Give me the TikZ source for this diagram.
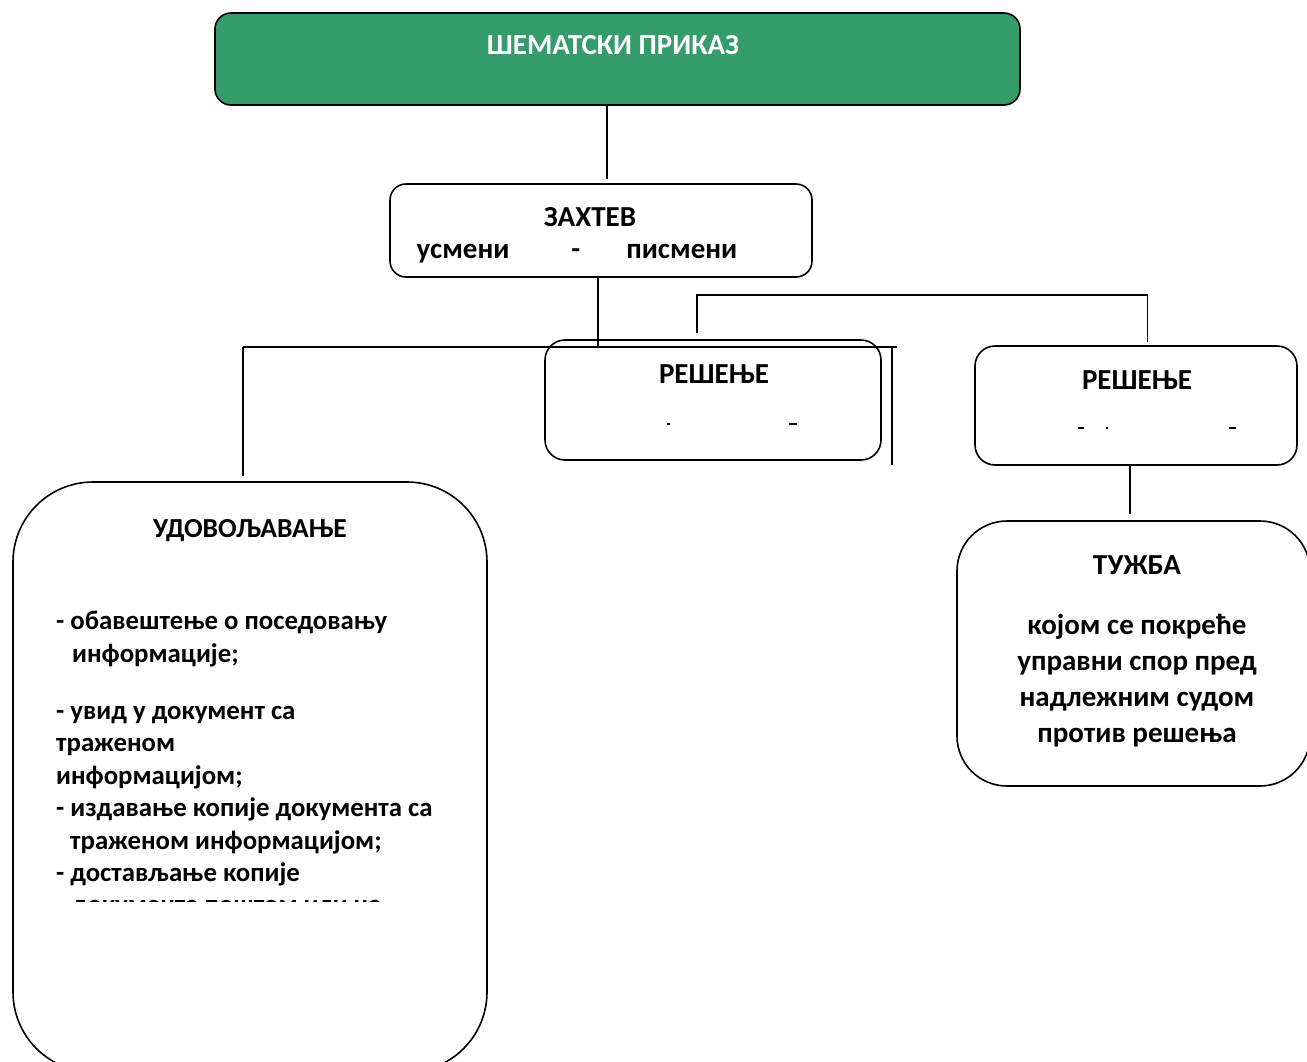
\documentclass[tikz,border=0pt]{standalone}
\usepackage{fontspec}
\setmainfont{Carlito}
\usetikzlibrary{positioning}

\definecolor{schemegreen}{RGB}{52,155,106}

\tikzset{
  box/.style={draw, line width=1.6pt, inner sep=0pt},
  txt/.style={font=\fontsize{29}{36}\selectfont\bfseries, inner sep=0pt},
  listtxt/.style={font=\fontsize{26.8}{32.4}\selectfont\bfseries, inner sep=0pt},
  link/.style={line width=1.6pt},
  frag/.style={line width=1.4pt},
}

\begin{document}
\begin{tikzpicture}[x=1pt,y=-1pt]
    \useasboundingbox (0,0) rectangle (1307,1061);
    \clip (0,0) rectangle (1307,1061);

    % boxes
    \node[box, fill=schemegreen, rounded corners=16pt, minimum width=805pt, minimum height=92pt] (top) at (617.5,59) {};
    \node[box, rounded corners=16pt, minimum width=422pt, minimum height=93pt] (req) at (601,230.5) {};
    \node[box, rounded corners=20pt, minimum width=336pt, minimum height=120pt] (dec1) at (713,400) {};
    \node[box, rounded corners=20pt, minimum width=322pt, minimum height=119pt] (dec2) at (1136,405.5) {};
    \node[box, rounded corners=50pt, minimum width=353pt, minimum height=265pt] (suit) at (1133.5,653.5) {};
    \node[box, rounded corners=80pt, minimum width=474pt, minimum height=590pt] (grant) at (250,777) {};

    % texts
    \node[txt, text=white] (topT) at (613,45) {ШЕМАТСКИ ПРИКАЗ};
    \node[txt] (reqT) at (590,217) {ЗАХТЕВ};
    \node[txt] (reqK) at (577,254) {усмени\hspace{62pt}-\hspace{46pt}писмени};
    \node[txt] (dec1T) at (714,374) {РЕШЕЊЕ};
    \node[txt] (dec2T) at (1137,380) {РЕШЕЊЕ};
    \node[txt, font=\fontsize{27.5}{32}\selectfont\bfseries] (grantT) at (250,531) {УДОВОЉАВАЊЕ};
    \node[txt] (suitT) at (1137,565) {ТУЖБА};
    \node[txt, align=center, anchor=north] (suitK) at (1137,614)
        {којом се покреће\\управни спор пред\\надлежним судом\\против решења};
    \begin{scope}
        \clip (0,0) rectangle (1307,901);
        \node[listtxt, align=left, anchor=north west] (grantK) at (56,611)
            {- обавештење о поседовању\\
             \hspace*{16pt}информације;\\[25pt]
             - увид у документ са\\
             траженом\\
             информацијом;\\
             - издавање копије документа са\\
             \hspace*{14pt}траженом информацијом;\\
             - достављање копије\\
             \hspace*{16pt}документа поштом или на};
    \end{scope}

    % connectors
    \coordinate (busL) at (243,347);
    \coordinate (busR) at (897,347);
    \coordinate (busE) at (892,347);
    \coordinate (appL) at (697,333);

    \draw[link] ([xshift=-10.5pt]top.south) -- ([xshift=6pt,yshift=4pt]req.north);
    \draw[link] ([xshift=-3pt]req.south) -- ([xshift=-3pt]req.south |- busL);
    \draw[link] (busL) -- (busR);
    \draw[link] (busL) -- ([xshift=-7pt,yshift=5pt]grant.north);
    \draw[link] (busE) -- (892,465);
    \draw[link] (appL) -- (697,295) -| ([xshift=11.5pt,yshift=3pt]dec2.north);
    \draw[link] ([xshift=-6pt]dec2.south) -- ([xshift=-3.5pt,yshift=6pt]suit.north);

    % leftover marks
    \draw[frag] (667,424) -- (670,424);
    \draw[frag] (789,424) -- (797,424);
    \draw[frag] (1078,428) -- (1084,428);
    \draw[frag] (1106,428) -- (1108,428);
    \draw[frag] (1229,428) -- (1236,428);
\end{tikzpicture}
\end{document}
